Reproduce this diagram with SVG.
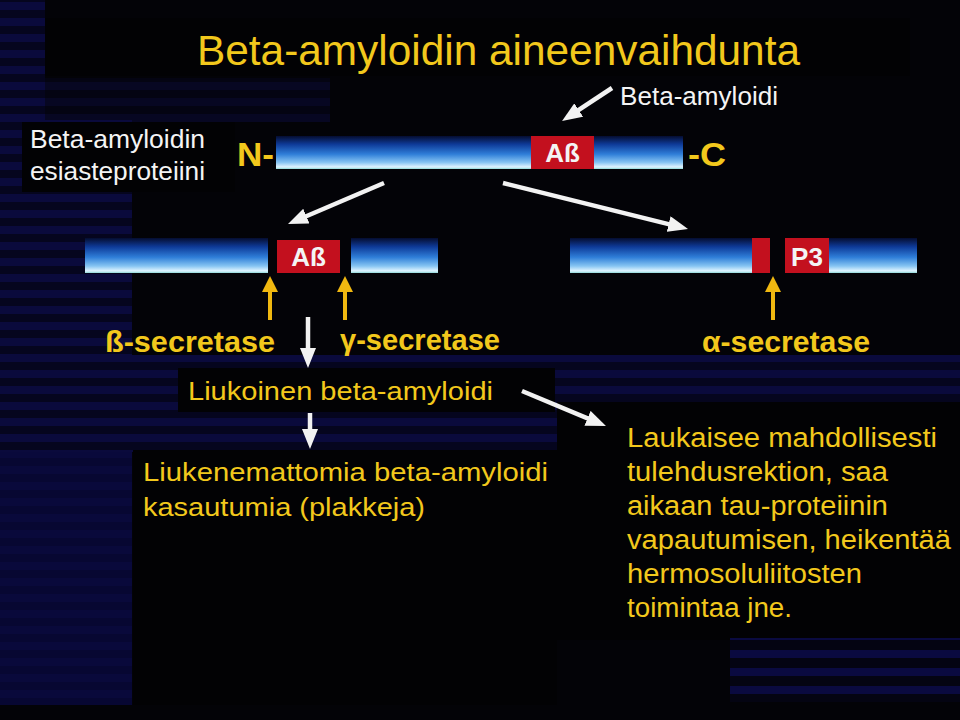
<svg xmlns="http://www.w3.org/2000/svg" width="960" height="720" viewBox="0 0 960 720">
<defs>
<style>
.yl{fill:#f2c81c;font-family:"Liberation Sans",Arial,sans-serif}
.wt{fill:#f4f4f4;font-family:"Liberation Sans",Arial,sans-serif}
.bold{font-weight:bold}
.box{fill:#020204}
.red{fill:#c3101e}
.wline{stroke:#f2f2f2;stroke-width:4.5;fill:none}
.yline{stroke:#f0b810;stroke-width:4;fill:none}
</style>
<linearGradient id="bar" x1="0" y1="0" x2="0" y2="1">
<stop offset="0" stop-color="#050d30"/>
<stop offset="0.25" stop-color="#0e3a98"/>
<stop offset="0.55" stop-color="#2f7ed8"/>
<stop offset="0.8" stop-color="#86c4f2"/>
<stop offset="0.94" stop-color="#e0f4ff"/>
<stop offset="1" stop-color="#8fd8d8"/>
</linearGradient>
<pattern id="stripes" width="16" height="16" patternUnits="userSpaceOnUse">
<rect width="16" height="16" fill="#05051e"/>
<rect y="2" width="16" height="8" fill="#0a0a3c"/>
</pattern>
<pattern id="stripes2" width="18" height="18" patternUnits="userSpaceOnUse">
<rect width="18" height="18" fill="#040412"/>
<rect y="2" width="18" height="8" fill="#0a0a40"/>
</pattern>
<marker id="wh" viewBox="0 0 10 10" refX="2" refY="5" markerWidth="20" markerHeight="16" markerUnits="userSpaceOnUse" orient="auto" preserveAspectRatio="none">
<path d="M0,0 L10,5 L0,10 z" fill="#f2f2f2"/>
</marker>
<marker id="yh" viewBox="0 0 10 10" refX="2" refY="5" markerWidth="16" markerHeight="16" markerUnits="userSpaceOnUse" orient="auto" preserveAspectRatio="none">
<path d="M0,0 L10,5 L0,10 z" fill="#f0b810"/>
</marker>
</defs>

<g id="background">
<rect width="960" height="720" fill="#030307"/>
<rect x="0" y="0" width="45" height="120" fill="url(#stripes)"/>
<rect x="0" y="78" width="330" height="44" fill="url(#stripes)" opacity="0.5"/>
<rect x="0" y="120" width="132" height="585" fill="url(#stripes)"/>
<rect x="0" y="440" width="132" height="265" fill="#09093a" opacity="0.7"/>
<rect x="0" y="355" width="960" height="97" fill="url(#stripes)"/>
<rect x="45" y="18" width="865" height="58" class="box"/>
<rect x="557" y="402" width="403" height="238" class="box"/>
<rect x="730" y="638" width="230" height="64" fill="url(#stripes2)"/>
<rect x="0" y="705" width="960" height="15" fill="#030307"/>
</g>

<g id="title">
<text x="197" y="65" class="yl" font-size="42" textLength="603" lengthAdjust="spacingAndGlyphs">Beta-amyloidin aineenvaihdunta</text>
</g>

<g id="label-beta-amyloidi">
<text x="620" y="105" class="wt" font-size="25" textLength="158" lengthAdjust="spacingAndGlyphs">Beta-amyloidi</text>
</g>

<g id="precursor-label">
<rect x="22" y="122" width="213" height="70" class="box"/>
<text x="30" y="148" class="wt" font-size="25" textLength="175" lengthAdjust="spacingAndGlyphs">Beta-amyloidin</text>
<text x="30" y="180" class="wt" font-size="25" textLength="175" lengthAdjust="spacingAndGlyphs">esiasteproteiini</text>
</g>

<g id="app-full">
<text x="237" y="166" class="yl bold" font-size="34" textLength="37" lengthAdjust="spacingAndGlyphs">N-</text>
<rect x="276" y="136" width="407" height="33" fill="url(#bar)"/>
<rect x="531" y="136" width="63" height="33" class="red"/>
<text x="562.5" y="162" class="wt bold" font-size="26" text-anchor="middle">Aß</text>
<text x="688" y="166" class="yl bold" font-size="34" textLength="38" lengthAdjust="spacingAndGlyphs">-C</text>
</g>

<g id="app-beta-gamma">
<rect x="85" y="238" width="183" height="35" fill="url(#bar)"/>
<rect x="277" y="240" width="63" height="33" class="red"/>
<text x="308.5" y="266" class="wt bold" font-size="26" text-anchor="middle">Aß</text>
<rect x="351" y="238" width="87" height="35" fill="url(#bar)"/>
</g>

<g id="app-alpha">
<rect x="570" y="238" width="347" height="35" fill="url(#bar)"/>
<rect x="752" y="238" width="18" height="35" class="red"/>
<rect x="770" y="238" width="15" height="35" fill="#030307"/>
<rect x="785" y="238" width="44" height="35" class="red"/>
<text x="807" y="266" class="wt bold" font-size="26" text-anchor="middle">P3</text>
</g>

<g id="beta-secretase">
<text x="105" y="352" class="yl bold" font-size="29" textLength="170" lengthAdjust="spacingAndGlyphs">ß-secretase</text>
</g>
<g id="gamma-secretase">
<text x="340" y="350" class="yl bold" font-size="29" textLength="160" lengthAdjust="spacingAndGlyphs">γ-secretase</text>
</g>
<g id="alpha-secretase">
<text x="702" y="352" class="yl bold" font-size="29" textLength="168" lengthAdjust="spacingAndGlyphs">α-secretase</text>
</g>

<g id="soluble">
<rect x="178" y="368" width="377" height="44" class="box"/>
<text x="188" y="400" class="yl" font-size="26" textLength="305" lengthAdjust="spacingAndGlyphs">Liukoinen beta-amyloidi</text>
</g>

<g id="insoluble">
<rect x="133" y="450" width="424" height="255" class="box"/>
<text x="143" y="481" class="yl" font-size="26" textLength="405" lengthAdjust="spacingAndGlyphs">Liukenemattomia beta-amyloidi</text>
<text x="143" y="516" class="yl" font-size="26" textLength="282" lengthAdjust="spacingAndGlyphs">kasautumia (plakkeja)</text>
</g>

<g id="effects">
<text class="yl" font-size="27">
<tspan x="627" y="447" textLength="310" lengthAdjust="spacingAndGlyphs">Laukaisee mahdollisesti</tspan>
<tspan x="627" y="481" textLength="261" lengthAdjust="spacingAndGlyphs">tulehdusrektion, saa</tspan>
<tspan x="627" y="515" textLength="261" lengthAdjust="spacingAndGlyphs">aikaan tau-proteiinin</tspan>
<tspan x="627" y="549" textLength="324" lengthAdjust="spacingAndGlyphs">vapautumisen, heikentää</tspan>
<tspan x="627" y="583" textLength="235" lengthAdjust="spacingAndGlyphs">hermosoluliitosten</tspan>
<tspan x="627" y="617" textLength="165" lengthAdjust="spacingAndGlyphs">toimintaa jne.</tspan>
</text>
</g>

<g id="connectors">
<line x1="612" y1="88" x2="575.4" y2="112.2" class="wline" marker-end="url(#wh)"/>
<line x1="384" y1="183" x2="302.7" y2="217.7" class="wline" marker-end="url(#wh)"/>
<line x1="503" y1="183" x2="672.5" y2="225.1" class="wline" marker-end="url(#wh)"/>
<line x1="308" y1="317" x2="308" y2="352" class="wline" marker-end="url(#wh)"/>
<line x1="310" y1="413" x2="310" y2="433" class="wline" marker-end="url(#wh)"/>
<line x1="522" y1="391" x2="591.2" y2="419.8" class="wline" marker-end="url(#wh)"/>
<line x1="270" y1="320" x2="270" y2="288.8" class="yline" marker-end="url(#yh)"/>
<line x1="345" y1="320" x2="345" y2="288.8" class="yline" marker-end="url(#yh)"/>
<line x1="773" y1="320" x2="773" y2="288.8" class="yline" marker-end="url(#yh)"/>
</g>
</svg>
